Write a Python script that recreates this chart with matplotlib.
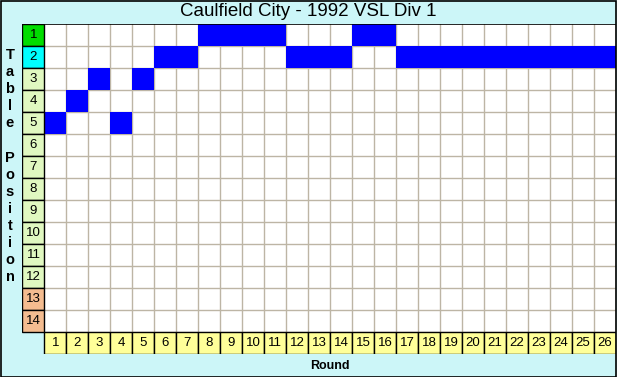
import matplotlib.pyplot as plt
from matplotlib.patches import Rectangle

plt.rcParams['font.family'] = ['Liberation Sans', 'DejaVu Sans']

rounds = list(range(1, 27))
positions = [5, 4, 3, 5, 3, 2, 2, 1, 1, 1, 1, 2, 2, 2, 1, 1,
             2, 2, 2, 2, 2, 2, 2, 2, 2, 2]
n_pos = 14
title = "Caulfield City - 1992 VSL Div 1"

# colour of each table position label
pos_colors = ['#00dd00', '#00ffff'] + ['#e0f8c0'] * 10 + ['#f4bc90'] * 2

W, H = 617, 377
fig = plt.figure(figsize=(W / 100, H / 100), dpi=100)
fig.patch.set_facecolor('#ccf6f8')
fig.patches.append(Rectangle((0.5 / W, 0.5 / H), (W - 1.5) / W, (H - 1.5) / H,
                             transform=fig.transFigure, fill=False,
                             edgecolor='black', linewidth=1.2))

# axes spanning label column + grid + round label row
x0, x1 = 22.5, 616
y_top, y_bot = 24, 354
ax = fig.add_axes([x0 / W, (H - y_bot) / H, (x1 - x0) / W, (y_bot - y_top) / H])
ax.set_xlim(-0.5, 26.5)
ax.set_ylim(15.5, 0.5)
ax.axis('off')

# white grid area
ax.add_patch(Rectangle((0.5, 0.5), 26, 14, facecolor='white', edgecolor='none'))
for i in range(1, 27):
    ax.plot([i + 0.5, i + 0.5], [0.5, 14.5], color='#bdb5a5', lw=1)
for j in range(1, 15):
    ax.plot([0.5, 26.5], [j + 0.5, j + 0.5], color='#bdb5a5', lw=1)

# position bars
ax.bar(rounds, 1, bottom=[p - 0.5 for p in positions], width=1,
       color='#0000ff', edgecolor='none', zorder=3)

# position labels
for p in range(1, n_pos + 1):
    ax.add_patch(Rectangle((-0.5, p - 0.5), 1, 1, facecolor=pos_colors[p - 1],
                           edgecolor='black', lw=1, zorder=4))
    ax.text(0, p, str(p), ha='center', va='center', fontsize=9.5, zorder=5)

# round labels
for r in rounds:
    ax.add_patch(Rectangle((r - 0.5, 14.5), 1, 1, facecolor='#ffff99',
                           edgecolor='black', lw=1, zorder=4))
    ax.text(r, 15, str(r), ha='center', va='center', fontsize=9.5, zorder=5)

ax.plot([-0.5, 26.5], [0.5, 0.5], color='black', lw=1.2, zorder=6)

fig.text(0.5, 1 - 12 / H, title, ha='center', va='center', fontsize=13.5)
fig.text((44 + 572 / 2) / W, 1 - 366 / H,
         'Round', ha='center', va='center', fontsize=9, fontweight='bold')

ylabel = "Table Position"
y = 55
for ch in ylabel:
    if ch != ' ':
        fig.text(10 / W, 1 - y / H, ch, ha='center', va='center',
                 fontsize=10.5, fontweight='bold')
    y += 17.1

fig.savefig('out.png', dpi=100, facecolor=fig.get_facecolor())
